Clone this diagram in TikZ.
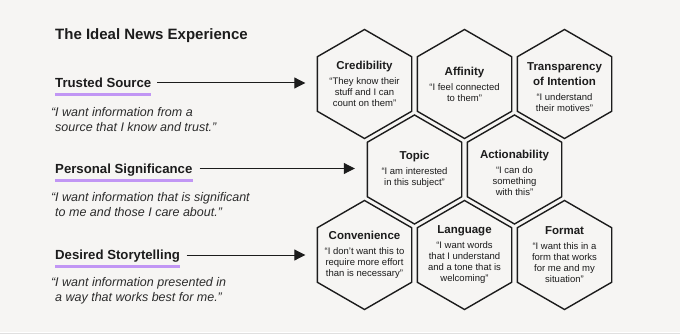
\documentclass[tikz,border=0pt]{standalone}
\usepackage{fontspec}
\setmainfont{Liberation Sans}
\usetikzlibrary{shapes.geometric,arrows.meta}
\definecolor{bg}{HTML}{F6F5F3}
\definecolor{ink}{HTML}{1C1C1C}
\definecolor{quotecol}{HTML}{2C2C2C}
\definecolor{lilac}{HTML}{C196F4}
\newcommand\hexhead[1]{{\bfseries\fontsize{11.5}{14}\selectfont #1}}
\begin{document}
\begin{tikzpicture}[x=1pt,y=-1pt,
  hexa/.style={regular polygon, regular polygon sides=6, shape border rotate=30,
    minimum size=109pt, inner sep=0pt, outer sep=0pt, draw=ink, line width=1.4pt},
  hextext/.style={align=center, text=ink, font=\fontsize{9.5}{11}\selectfont, inner sep=0pt},
  headlbl/.style={anchor=west, inner sep=0pt, text=ink,
    font=\bfseries\fontsize{13.2}{15}\selectfont, text height=9.5pt, text depth=0pt},
  quotetxt/.style={anchor=base west, inner sep=0pt, align=left, text=quotecol,
    font=\itshape\fontsize{12.5}{15.7}\selectfont},
  uline/.style={draw=lilac, line width=3pt},
  arr/.style={draw=ink, line width=1pt, -{Triangle[length=11pt,width=11pt]}}
]
\fill[bg] (0,0) rectangle (680,334);
\useasboundingbox (0,0) rectangle (680,334);
\fill[white] (0,331.5) rectangle (680,332.5);
\fill[black!12] (0,332.5) rectangle (680,334);

% title
\node[anchor=base west, inner sep=0pt, text=ink, font=\bfseries\fontsize{15}{18}\selectfont]
  (title) at (55,39.3) {The Ideal News Experience};

% left labels
\node[headlbl] (ts) at (55,83) {Trusted Source};
\node[headlbl] (ps) at (55,168.5) {Personal Significance};
\node[headlbl] (ds) at (55,255) {Desired Storytelling};
\draw[uline] ([yshift=-7pt]ts.south west) -- ([yshift=-7pt]ts.south east);
\draw[uline] ([yshift=-7pt]ps.south west) -- ([yshift=-7pt]ps.south east);
\draw[uline] ([yshift=-7pt]ds.south west) -- ([yshift=-7pt]ds.south east);

\node[quotetxt] (tsq) at (55,131.7) {\llap{“}I want information from a\\source that I know and trust.”};
\node[quotetxt] (psq) at (55,216.7) {\llap{“}I want information that is significant\\to me and those I care about.”};
\node[quotetxt] (dsq) at (55,301.7) {\llap{“}I want information presented in\\a way that works best for me.”};

% hexagons
\node[hexa] (cred) at (364.5,84) {};
\node[hexa] (aff) at (464.5,84) {};
\node[hexa] (trans) at (564.5,84) {};
\node[hexa] (topic) at (414.5,169.5) {};
\node[hexa] (act) at (514.5,169.5) {};
\node[hexa] (conv) at (364.5,255) {};
\node[hexa] (lang) at (464.5,255) {};
\node[hexa] (form) at (564.5,255) {};

\node[hextext] (credt) at (cred) {\hexhead{Credibility}\\[4pt]“They know their\\stuff and I can\\count on them”};
\node[hextext] (afft) at (aff) {\hexhead{Affinity}\\[4pt]“I feel connected\\to them”};
\node[hextext] (transt) at ([yshift=-3pt]trans.center) {\hexhead{Transparency}\\[3.5pt]\hexhead{of Intention}\\[4pt]“I understand\\their motives”};
\node[hextext] (topict) at (topic) {\hexhead{Topic}\\[4pt]“I am interested\\in this subject”};
\node[hextext] (actt) at ([yshift=-3pt]act.center) {\hexhead{Actionability}\\[4pt]“I can do\\something\\with this”};
\node[hextext] (convt) at (conv) {\hexhead{Convenience}\\[4pt]“I don’t want this to\\require more effort\\than is necessary”};
\node[hextext] (langt) at (lang) {\hexhead{Language}\\[4pt]“I want words\\that I understand\\and a tone that is\\welcoming”};
\node[hextext] (formt) at (form) {\hexhead{Format}\\[4pt]“I want this in a\\form that works\\for me and my\\situation”};

% arrows
\draw[arr] ([xshift=6pt]ts.east) -- ([xshift=-12pt]ts.east -| cred.west);
\draw[arr] ([xshift=7pt]ps.east) -- ([xshift=-12.5pt]ps.east -| topic.west);
\draw[arr] ([xshift=6.5pt]ds.east) -- ([xshift=-12pt]ds.east -| conv.west);
\end{tikzpicture}
\end{document}
